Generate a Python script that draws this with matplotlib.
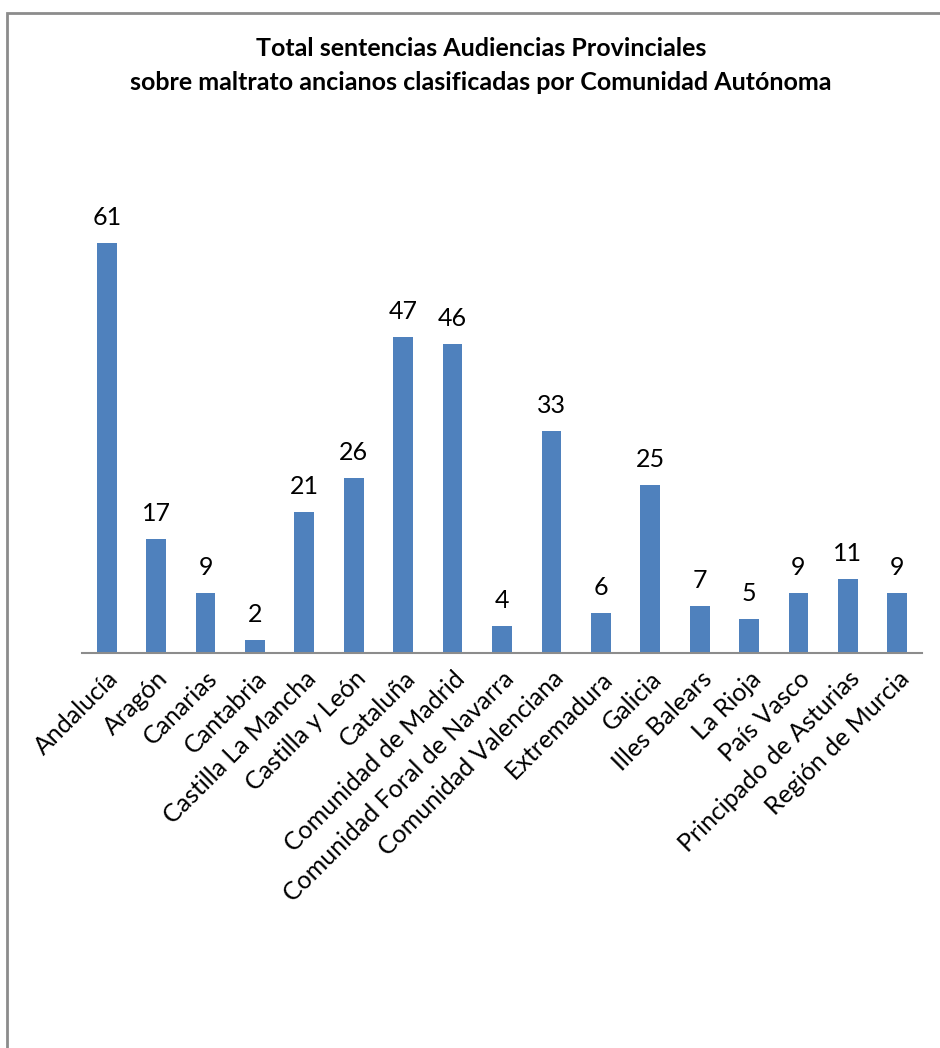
import matplotlib.pyplot as plt
from matplotlib.patches import Rectangle

# Data
comunidades = ['Andalucía', 'Aragón', 'Canarias', 'Cantabria', 'Castilla La Mancha',
               'Castilla y León', 'Cataluña', 'Comunidad de Madrid',
               'Comunidad Foral de Navarra', 'Comunidad Valenciana', 'Extremadura',
               'Galicia', 'Illes Balears', 'La Rioja', 'País Vasco',
               'Principado de Asturias', 'Región de Murcia']
sentencias = [61, 17, 9, 2, 21, 26, 47, 46, 4, 33, 6, 25, 7, 5, 9, 11, 9]

plt.rcParams['font.family'] = ['Lato', 'DejaVu Sans']

W, H = 940, 1048
fig = plt.figure(figsize=(W / 100, H / 100), dpi=100)

# chart frame (right and bottom edges fall outside the image)
fig.patches.append(Rectangle((7 / W, -0.1), 1.2, 1 - 13 / H + 0.1,
                             transform=fig.transFigure, fill=False,
                             edgecolor='#8c8c8c', linewidth=2))

# plot area: baseline at y=653, top (70) at y=183, x from 82 to 922
ax = fig.add_axes([82 / W, 1 - 653 / H, (922 - 82) / W, (653 - 183) / H])
x = range(len(comunidades))
bars = ax.bar(x, sentencias, width=0.4, color='#4F81BD')
ax.set_xlim(-0.5, len(comunidades) - 0.5)
ax.set_ylim(0, 70)

for xi, v in zip(x, sentencias):
    ax.annotate(str(v), (xi, v), xytext=(0, 13), textcoords='offset points',
                ha='center', va='baseline', fontsize=18)

ax.set_xticks(list(x))
ax.set_xticklabels(comunidades, rotation=45, ha='right', va='top',
                   rotation_mode='anchor', fontsize=18)
ax.tick_params(axis='x', length=0, pad=10)
ax.set_yticks([])
for s in ['top', 'right', 'left']:
    ax.spines[s].set_visible(False)
ax.spines['bottom'].set_color('#8c8c8c')
ax.spines['bottom'].set_linewidth(1.5)

fig.text(481 / W, 1 - 48 / H, 'Total sentencias Audiencias Provinciales',
         ha='center', va='center', fontsize=18, fontweight='bold')
fig.text(481 / W, 1 - 83 / H, 'sobre maltrato ancianos clasificadas por Comunidad Autónoma',
         ha='center', va='center', fontsize=18, fontweight='bold')

fig.savefig('out.png', dpi=100, facecolor='white')
